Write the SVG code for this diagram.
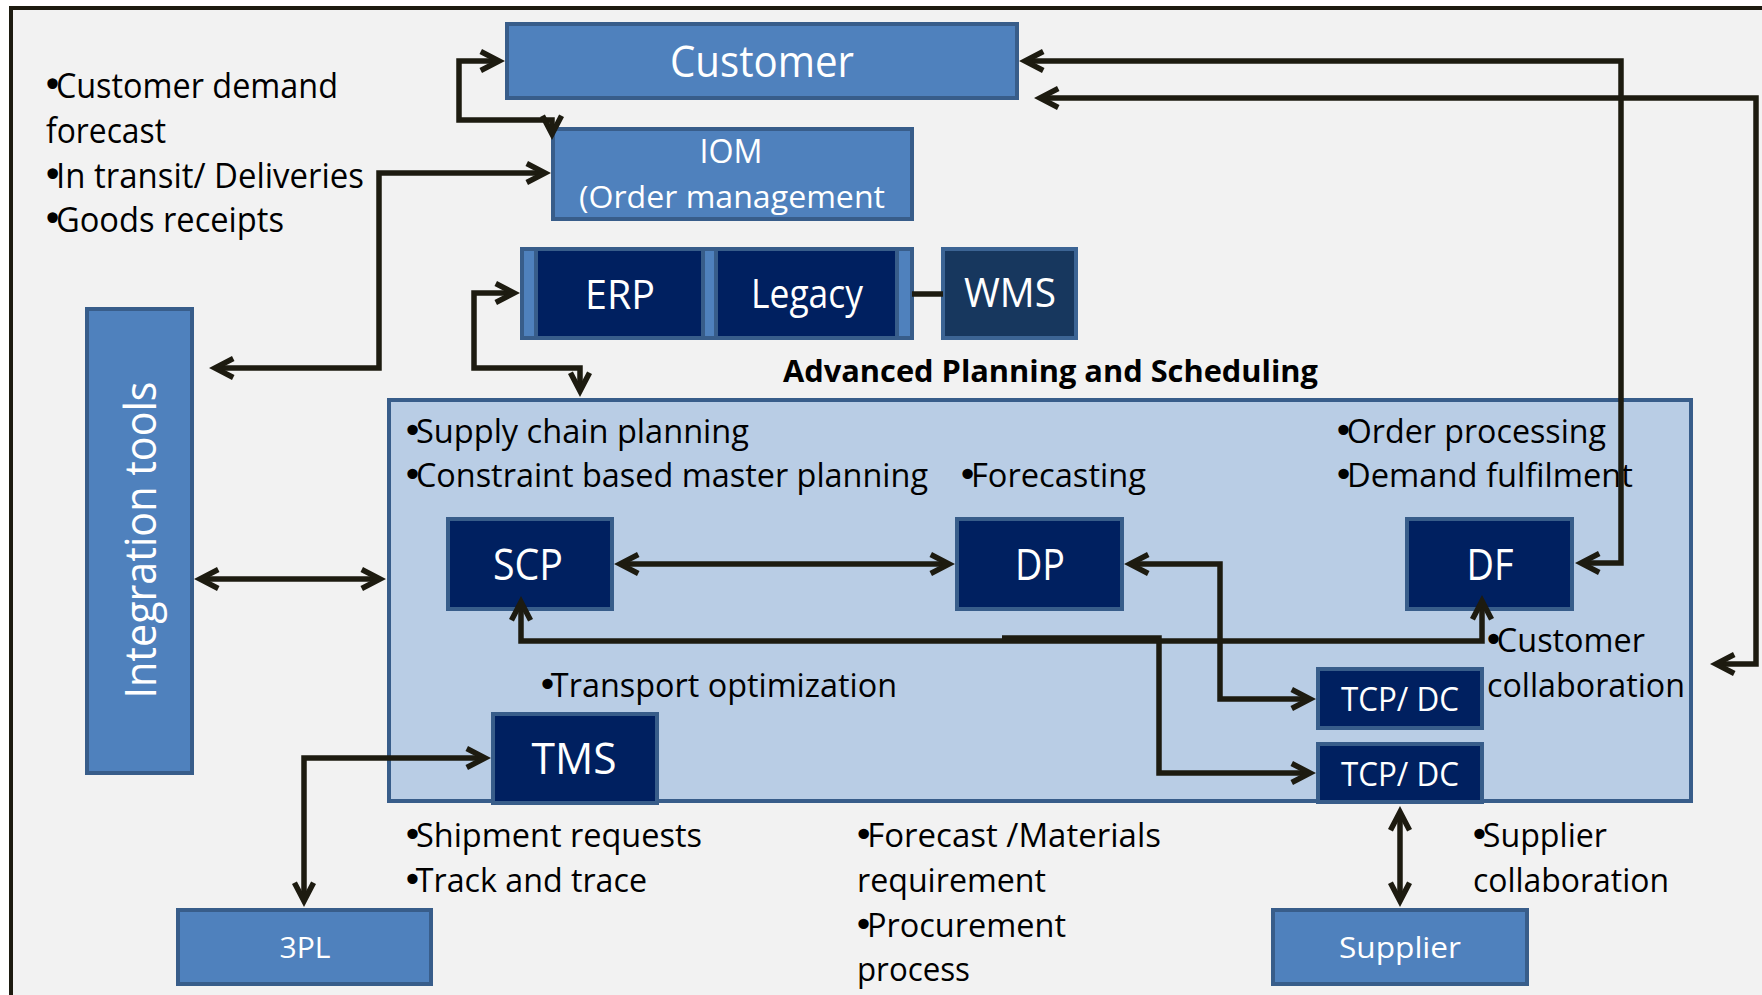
<svg xmlns="http://www.w3.org/2000/svg" width="1762" height="995" viewBox="0 0 1762 995">
<defs>
<style>
.t{font-family:"Open Sans","Liberation Sans",sans-serif;fill:#000;font-size:32px}
.tl{font-family:"Open Sans","Liberation Sans",sans-serif;fill:#000;font-size:34px}
.b{font-family:"DejaVu Sans",sans-serif;font-size:110%;letter-spacing:-0.2em}
.w{font-family:"Open Sans","Liberation Sans",sans-serif;fill:#fff;text-anchor:middle}
.lb{fill:#4f81bd;stroke:#385d8a;stroke-width:4}
.db{fill:#002060;stroke:#385d8a;stroke-width:4}
.c{fill:none;stroke:#1d1b10;stroke-width:5.5;stroke-linejoin:miter}
.c2{marker-start:url(#ah);marker-end:url(#ah)}
</style>
<marker id="ah" markerUnits="userSpaceOnUse" viewBox="-30 -15 32 30" refX="-7" refY="0" markerWidth="32" markerHeight="30" orient="auto-start-reverse">
<path d="M0,0 L-23,-12 L-25.5,-7.1 L-11.9,0 L-25.5,7.1 L-23,12 Z" fill="#1d1b10"/>
</marker>
</defs>
<rect x="0" y="0" width="1762" height="995" fill="#ffffff"/>
<rect x="11" y="8" width="1800" height="1000" fill="#f2f2f2" stroke="#1d1b10" stroke-width="4"/>

<g id="aps">
<rect x="389" y="400" width="1302" height="401" fill="#b9cde5" stroke="#385d8a" stroke-width="4"/>
</g>

<g id="labels">
<text class="tl" x="42" y="98" textLength="296" lengthAdjust="spacingAndGlyphs"><tspan class="b">•</tspan>Customer demand</text>
<text class="tl" x="46" y="143" textLength="120" lengthAdjust="spacingAndGlyphs">forecast</text>
<text class="tl" x="42" y="188" textLength="322" lengthAdjust="spacingAndGlyphs"><tspan class="b">•</tspan>In transit/ Deliveries</text>
<text class="tl" x="42" y="232" textLength="242" lengthAdjust="spacingAndGlyphs"><tspan class="b">•</tspan>Goods receipts</text>
<text class="t" x="783" y="382" style="font-size:30px;font-weight:bold" textLength="535" lengthAdjust="spacingAndGlyphs">Advanced Planning and Scheduling</text>
<text class="t" x="402" y="443" textLength="347" lengthAdjust="spacingAndGlyphs"><tspan class="b">•</tspan>Supply chain planning</text>
<text class="t" x="402" y="487" textLength="526" lengthAdjust="spacingAndGlyphs"><tspan class="b">•</tspan>Constraint based master planning</text>
<text class="t" x="957" y="487" textLength="189" lengthAdjust="spacingAndGlyphs"><tspan class="b">•</tspan>Forecasting</text>
<text class="t" x="1333" y="443" textLength="273" lengthAdjust="spacingAndGlyphs"><tspan class="b">•</tspan>Order processing</text>
<text class="t" x="1333" y="487" textLength="300" lengthAdjust="spacingAndGlyphs"><tspan class="b">•</tspan>Demand fulfilment</text>
<text class="t" x="1483" y="652" textLength="162" lengthAdjust="spacingAndGlyphs"><tspan class="b">•</tspan>Customer</text>
<text class="t" x="1487" y="697" textLength="198" lengthAdjust="spacingAndGlyphs">collaboration</text>
<text class="t" x="537" y="697" textLength="360" lengthAdjust="spacingAndGlyphs"><tspan class="b">•</tspan>Transport optimization</text>
<text class="t" x="402" y="847" textLength="300" lengthAdjust="spacingAndGlyphs"><tspan class="b">•</tspan>Shipment requests</text>
<text class="t" x="402" y="892" textLength="245" lengthAdjust="spacingAndGlyphs"><tspan class="b">•</tspan>Track and trace</text>
<text class="t" x="853" y="847" textLength="308" lengthAdjust="spacingAndGlyphs"><tspan class="b">•</tspan>Forecast /Materials</text>
<text class="t" x="857" y="892" textLength="189" lengthAdjust="spacingAndGlyphs">requirement</text>
<text class="t" x="853" y="937" textLength="213" lengthAdjust="spacingAndGlyphs"><tspan class="b">•</tspan>Procurement</text>
<text class="t" x="857" y="981" textLength="113" lengthAdjust="spacingAndGlyphs">process</text>
<text class="t" x="1469" y="847" textLength="138" lengthAdjust="spacingAndGlyphs"><tspan class="b">•</tspan>Supplier</text>
<text class="t" x="1473" y="892" textLength="196" lengthAdjust="spacingAndGlyphs">collaboration</text>
</g>

<g id="customer">
<rect class="lb" x="507" y="24" width="510" height="74"/>
<text class="w" x="762" y="77" font-size="43" textLength="184" lengthAdjust="spacingAndGlyphs">Customer</text>
</g>
<g id="iom">
<rect class="lb" x="553" y="129" width="359" height="90"/>
<text class="w" x="731" y="163" font-size="33" textLength="63" lengthAdjust="spacingAndGlyphs">IOM</text>
<text class="w" x="579" y="208" font-size="31" style="text-anchor:start" textLength="306" lengthAdjust="spacingAndGlyphs">(Order management</text>
</g>
<g id="erp-legacy">
<rect class="lb" x="522" y="249" width="390" height="89"/>
<rect class="db" x="536" y="249" width="167" height="89"/>
<rect class="db" x="716" y="249" width="181" height="89"/>
<text class="w" x="620" y="309" font-size="41" textLength="70" lengthAdjust="spacingAndGlyphs">ERP</text>
<text class="w" x="751" y="308" font-size="40" style="text-anchor:start" textLength="112" lengthAdjust="spacingAndGlyphs">Legacy</text>
</g>
<g id="wms">
<rect x="943" y="249" width="133" height="89" fill="#17375e" stroke="#3c6494" stroke-width="4"/>
<text class="w" x="1010" y="307" font-size="40" textLength="92" lengthAdjust="spacingAndGlyphs">WMS</text>
</g>
<g id="integration">
<rect class="lb" x="87" y="309" width="105" height="464"/>
<text class="w" transform="translate(156,540) rotate(-90)" x="0" y="0" font-size="43" textLength="317" lengthAdjust="spacingAndGlyphs">Integration tools</text>
</g>
<g id="scp">
<rect class="db" x="448" y="519" width="164" height="90"/>
<text class="w" x="528" y="580" font-size="43" textLength="70" lengthAdjust="spacingAndGlyphs">SCP</text>
</g>
<g id="dp">
<rect class="db" x="957" y="519" width="165" height="90"/>
<text class="w" x="1040" y="580" font-size="43" textLength="50" lengthAdjust="spacingAndGlyphs">DP</text>
</g>
<g id="df">
<rect class="db" x="1407" y="519" width="165" height="90"/>
<text class="w" x="1490" y="580" font-size="43" textLength="47" lengthAdjust="spacingAndGlyphs">DF</text>
</g>
<g id="tms">
<rect class="db" x="493" y="714" width="164" height="89"/>
<text class="w" x="574" y="774" font-size="43" textLength="85" lengthAdjust="spacingAndGlyphs">TMS</text>
</g>
<g id="tcp1">
<rect class="db" x="1318" y="669" width="164" height="59"/>
<text class="w" x="1400" y="711" font-size="33" textLength="118" lengthAdjust="spacingAndGlyphs">TCP/ DC</text>
</g>
<g id="tcp2">
<rect class="db" x="1318" y="744" width="164" height="58"/>
<text class="w" x="1400" y="786" font-size="33" textLength="118" lengthAdjust="spacingAndGlyphs">TCP/ DC</text>
</g>
<g id="3pl">
<rect class="lb" x="178" y="910" width="253" height="74"/>
<text class="w" x="305" y="958" font-size="30" textLength="51" lengthAdjust="spacingAndGlyphs">3PL</text>
</g>
<g id="supplier">
<rect class="lb" x="1273" y="910" width="254" height="74"/>
<text class="w" x="1400" y="958" font-size="30" textLength="122" lengthAdjust="spacingAndGlyphs">Supplier</text>
</g>

<g id="connectors">
<path class="c" d="M912,294 L943,294"/>
<path class="c c2" d="M552,133 L552,120 L459,120 L459,61 L498,61"/>
<path class="c c2" d="M216,368 L379,368 L379,173 L544,173"/>
<path class="c c2" d="M513,293 L474,293 L474,368 L580,368 L580,390"/>
<path class="c c2" d="M1026,61 L1621,61 L1621,563 L1582,563"/>
<path class="c c2" d="M1041,98 L1756,98 L1756,664 L1717,664"/>
<path class="c c2" d="M201,579 L379,579"/>
<path class="c c2" d="M621,564 L948,564"/>
<path class="c c2" d="M1131,564 L1220,564 L1220,699 L1309,699"/>
<path class="c c2" d="M521,603 L521,641 L1482,641 L1482,602"/>
<path class="c" style="marker-end:url(#ah)" d="M1002,638 L1159,638 L1159,773 L1309,773"/>
<path class="c c2" d="M484,758 L304,758 L304,900"/>
<path class="c c2" d="M1400,813 L1400,900"/>
</g>
</svg>
